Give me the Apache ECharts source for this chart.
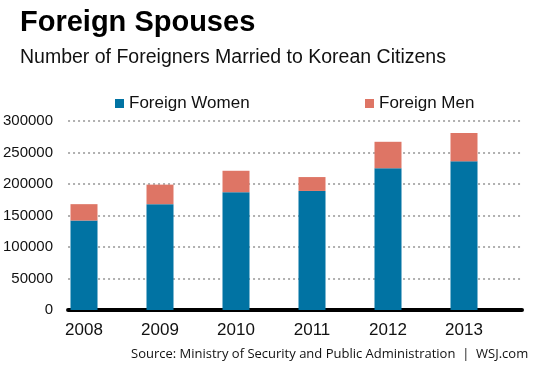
<!DOCTYPE html>
<html>
<head>
<meta charset="utf-8">
<script src="https://cdn.jsdelivr.net/npm/echarts@6/dist/echarts.min.js"></script>
<style>
html,body{margin:0;padding:0;background:#fff;}
#c{width:553px;height:369px;}
</style>
</head>
<body>
<div id="c"></div>
<script>
var years = ['2008', '2009', '2010', '2011', '2012', '2013'];
var foreignWomen = [142000, 168000, 187000, 189000, 225000, 236000];
var foreignMen = [26000, 31000, 34000, 22000, 42000, 45000];
var yTicks = [0, 50000, 100000, 150000, 200000, 250000, 300000];

var FONT = '"Liberation Sans", Arial, sans-serif';
var chart = echarts.init(document.getElementById('c'), null, {renderer: 'canvas'});
chart.setOption({
  animation: false,
  backgroundColor: '#fff',
  title: [{
    text: 'Foreign Spouses',
    left: 20, top: 8, padding: 0,
    textStyle: {fontFamily: FONT, fontSize: 29, fontWeight: 'bold', color: '#000'}
  }, {
    text: 'Number of Foreigners Married to Korean Citizens',
    left: 20, top: 48, padding: 0,
    textStyle: {fontFamily: FONT, fontSize: 19.5, fontWeight: 'normal', color: '#111'}
  }, {
    text: 'Source: Ministry of Security and Public Administration  |  WSJ.com',
    left: 131, top: 348, padding: 0,
    textStyle: {fontFamily: '"Open Sans", sans-serif', fontSize: 13, fontWeight: 'normal', color: '#111'}
  }],
  legend: [{
    data: ['Foreign Women'], left: 115, top: 95, padding: 0,
    icon: 'rect', itemWidth: 9, itemHeight: 9, itemGap: 5,
    textStyle: {fontFamily: FONT, fontSize: 17, color: '#111'}
  }, {
    data: ['Foreign Men'], left: 365, top: 95, padding: 0,
    icon: 'rect', itemWidth: 9, itemHeight: 9, itemGap: 5,
    textStyle: {fontFamily: FONT, fontSize: 17, color: '#111'}
  }],
  grid: [
    {left: 46, right: 51, top: 121, bottom: 59},
    {left: 65, right: 31, top: 121, bottom: 59}
  ],
  xAxis: [{
    gridIndex: 0, type: 'category', data: years,
    axisLine: {show: false}, axisTick: {show: false},
    axisLabel: {fontFamily: FONT, fontSize: 17, color: '#111', margin: 12}
  }, {
    gridIndex: 1, type: 'value', min: 0, max: 1,
    axisLine: {show: true, lineStyle: {color: '#000', width: 4}},
    axisTick: {show: false}, axisLabel: {show: false}, splitLine: {show: false}
  }],
  yAxis: [{
    gridIndex: 0, type: 'value', min: 0, max: 300000, interval: 50000,
    axisLine: {show: false}, axisTick: {show: false}, axisLabel: {show: false}, splitLine: {show: false}
  }, {
    gridIndex: 1, type: 'value', min: yTicks[0], max: yTicks[yTicks.length - 1], interval: 50000,
    axisLine: {show: false}, axisTick: {show: false},
    axisLabel: {fontFamily: FONT, fontSize: 15, color: '#111', margin: 15,
      formatter: function (v) { return String(v); }},
    splitLine: {show: true, lineStyle: {color: '#b0b0b0', width: 2, type: [2, 3]}}
  }],
  series: [{
    name: 'Foreign Women', type: 'bar', stack: 'a', data: foreignWomen,
    xAxisIndex: 0, yAxisIndex: 0, barWidth: 27,
    itemStyle: {color: '#0173a3'}
  }, {
    name: 'Foreign Men', type: 'bar', stack: 'a', data: foreignMen,
    xAxisIndex: 0, yAxisIndex: 0, barWidth: 27,
    itemStyle: {color: '#de7565'}
  }]
});
</script>
</body>
</html>
